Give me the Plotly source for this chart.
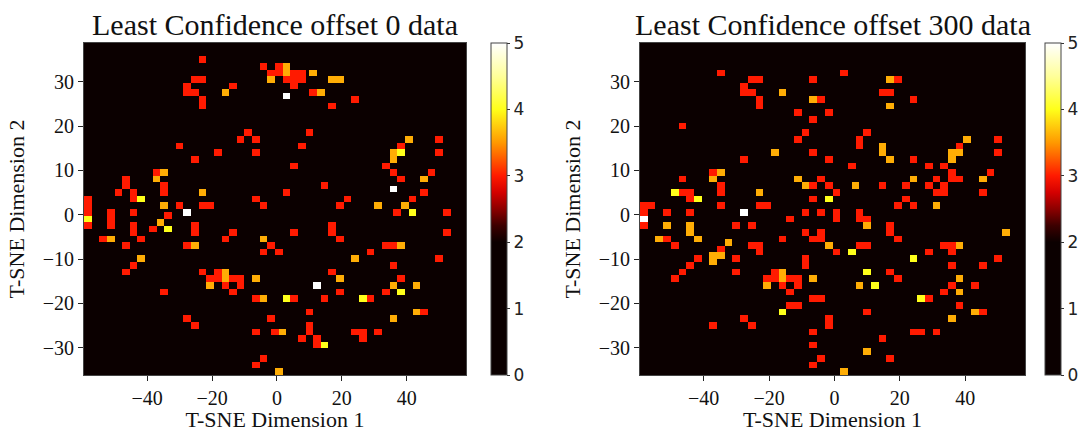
import numpy as np
import plotly.graph_objects as go

# ---- grid (t-SNE space binned as in the reference) ----
X_MIN, X_MAX = -59.5, 58.3
Y_MIN, Y_MAX = -36.2, 38.8
N_BINS = 50

# level values of the coloured bins
RED, ORANGE, YELLOW, WHITE = 3.0, 3.6, 4.0, 5.0

x_ticks = [-40, -20, 0, 20, 40]
y_ticks = [-30, -20, -10, 0, 10, 20, 30]
cb_ticks = [0, 1, 2, 3, 4, 5]

titles = ["Least Confidence offset 0 data", "Least Confidence offset 300 data"]

# ---- left panel bins: (column from left, row from top) ----
left_red = [(15,2),(14,5),(15,5),(13,6),(13,7),(14,7),(15,8),(15,9),(19,6),(23,3),(20,14),(21,13),(22,14),(22,16),
            (12,15),(17,16),(14,17),(9,19),(10,21),(10,22),(5,20),(5,21),(4,22),(6,22),(6,23),(0,23),(0,24),(0,25),
            (0,27),(22,23),(12,24),(15,24),(16,24),(24,4),(25,3),(25,4),(27,4),(28,4),(26,5),(27,5),(28,5),(27,6),
            (29.5,7),(35,8),(32,9),(29,13),(28,15),(27,18),(26,22),(31,21),(34,23),(33,24),(23,24),(41,15),(39,18),
            (40,19),(41,20),(42.5,23),(45,19),(44,22),(46,14),(46,16),(47,25),(3,25),(3,26),(3,27),(6,25),(6,27),
            (6,28),(7,29),(2,29),(5,30),(6,33),(5,34),(10,37),(13,41),(14,42),(10.5,25.5),(8.5,27.5),(14,27),(14,28),
            (13,30),(18,29),(19,28),(23,31),(15,34),(17,34),(16,35),(17,35),(19,35),(20,35),(18,36),(20,36),(19,37),
            (22,38),(22,43),(22,48),(40.5,25),(47,28),(32,27),(32,28),(33,29),(27,28),(24,30),(25,31),(39,30),(40,30),
            (37,31),(46,32),(40,33),(32,34),(41,35),(39,37),(33,37),(27,38),(31,38),(37,38),(29,40),(44,40),(24,41),
            (24.5,43),(29,42),(29,43),(28,44),(30,44),(30,45),(35,43),(36,43),(36,44),(38,43),(23,47)]
left_orange = [(18,7),(10,19),(9,20),(15,22),(10,24),(26,3),(26,4),(24,5),(29.5,4),(32,5),(33,5),(30.5,7),(38,24),
               (41.5,24),(42,14),(40,16),(40,17),(44,20),(3,29),(7,32),(9.5,26.5),(14,30),(18,34),(18,35),(16,36),
               (22,35),(23,29),(41,30),(35,32),(33,35),(40,36),(43,36),(23,38),(43,40),(40,41),(25.5,43),(25,49)]
left_yellow = [(7,23),(0,26),(41,16),(10.5,27.5),(42.5,25),(41,37),(26,38),(36,38),(31,45)]
left_white = [(26,7.5),(40,21.5),(13,25),(30,36)]

# ---- right panel bins ----
right_red = [(10,4),(14,5),(15,5),(13,6),(13,7),(14,7),(15,8),(15,9),(5,12),(20,10),(21,13),(20,14),(13,17),(9,19),
             (10,21),(10,22),(5,20),(5,22),(6,22),(6,23),(0,24),(1,24),(10,24),(15,24),(16,24),(26,4),(22,5),(33,5),
             (31,7),(32,7),(23,8),(35,8),(24,10),(22,11),(29,13),(28,14),(28,15),(22,16),(24,17),(27,18),(35,17),
             (41,15),(37,18),(39,18),(40,19),(40,20),(41,20),(38,20),(37,21),(39,21),(39,22),(38,22),(45,19),(46,14),
             (46,16),(44,22),(35,24),(33,24),(34,23),(34,21),(31,21),(23,20),(22,21),(24,21),(25,22),(22,23),(0,25),
             (0,27),(3,25),(6,25),(3,29),(4,30),(12,27),(14,27),(19,26),(21,25),(21,28),(18,29),(10,30.5),(14,30),
             (15,30),(15,31),(12,32),(12,34),(7,32),(6,33),(5,34),(4,35),(17,34),(16,35),(17,35),(19,35),(20,35),
             (20,36),(18,36),(19,37),(19,39),(20,39),(9,42),(13,41),(14,42),(21,32),(21,33),(23,25),(25,25),(25,26),
             (28,25),(28,26),(29,26),(32,27),(32,28),(33,29),(23,28),(22,29),(23,29),(25,31),(28,30),(29,30),(37,31),
             (39,30),(40,30),(40,31),(40,33),(44,33),(46,32),(32,34),(33,35),(40,36),(43,36),(39,37),(22,38),(23,38),
             (37,38),(41,39),(29,40),(44,40),(24,41),(24,42),(22,43),(35,43),(36,43),(38,43),(31,44),(22,45),(23,47),
             (32,47),(22,48)]
right_orange = [(18,7),(17,16),(10,19),(9,20),(15,22),(20,20),(21,21),(32,5),(22,8),(32,9),(31,15),(31,16),(32,17),
                (42,14),(40,16),(40,17),(41,16),(44,20),(35,20),(38,24),(27.5,21),(3,27),(6,27),(6,28),(7,29),(2,29),
                (11,29.5),(9,31.5),(10,31.5),(9,32.5),(18,34),(18,35),(16,36),(29,27),(47,28),(24,30),(41,30),(22,35),
                (28,36),(41,35),(41,37),(43,40),(40,41),(29,46),(26,49)]
right_yellow = [(4,22),(7,23),(24,23),(27,31),(35,32),(29,34),(30,36),(36,38),(18,40)]
right_white = [(0,26),(13,25)]

# ---- build half-bin grids ----
NS = 2 * N_BINS
dx = (X_MAX - X_MIN) / NS
dy = (Y_MAX - Y_MIN) / NS
x_centers = X_MIN + (np.arange(NS) + 0.5) * dx
y_centers = Y_MAX - (np.arange(NS) + 0.5) * dy


def build(groups):
    z = np.zeros((NS, NS))
    for cells, val in groups:
        for c, r in cells:
            i0 = int(round(2 * c))
            j0 = int(round(2 * r))
            z[j0:j0 + 2, i0:i0 + 2] = val
    return z


z_left = build([(left_red, RED), (left_orange, ORANGE), (left_yellow, YELLOW), (left_white, WHITE)])
z_right = build([(right_red, RED), (right_orange, ORANGE), (right_yellow, YELLOW), (right_white, WHITE)])

hot = [[0.0, '#0b0000'], [0.40, '#0b0000'], [0.45, '#3c0000'], [0.50, '#8c0000'], [0.55, '#d40000'],
       [0.60, '#ff1a00'], [0.70, '#ff9900'], [0.80, '#ffff1a'], [0.90, '#ffff9a'], [1.0, '#ffffff']]

W, H = 1086, 432
SERIF = "Liberation Serif, Times New Roman, serif"
SANS = "DejaVu Sans, sans-serif"


def fx(px):
    return px / W


def fy(py):
    return 1 - py / H


panels = [
    dict(z=z_left, x0=84, x1=466, cbx=491),
    dict(z=z_right, x0=640, x1=1025, cbx=1045),
]
plot_top, plot_bot = 43, 375

fig = go.Figure()
for k, p in enumerate(panels):
    sfx = "" if k == 0 else str(k + 1)
    fig.add_trace(go.Heatmap(
        z=p["z"], x=x_centers, y=y_centers, zmin=0, zmax=5, colorscale=hot,
        xaxis="x" + sfx, yaxis="y" + sfx, hoverinfo="skip",
        colorbar=dict(
            x=fx(p["cbx"]), xanchor="left", xpad=0, ypad=0,
            y=fy(plot_bot), yanchor="bottom", len=(plot_bot - plot_top) / H, lenmode="fraction",
            thickness=16, thicknessmode="pixels", outlinewidth=1, outlinecolor="#444",
            tickvals=cb_ticks, ticks="outside", ticklen=3, tickcolor="#333",
            tickfont=dict(family=SANS, size=17, color="#222"),
        ),
    ))
    xa = dict(
        domain=[fx(p["x0"]), fx(p["x1"])], range=[X_MIN, X_MAX], anchor="y" + sfx,
        tickvals=x_ticks, ticktext=[str(v).replace("-", "\u2212") for v in x_ticks],
        ticks="outside", ticklen=5, tickcolor="#222", showgrid=False, zeroline=False,
        showline=True, linecolor="#444", linewidth=1, mirror=True,
        tickfont=dict(family=SERIF, size=20, color="#111"),
        title=dict(text="T-SNE Dimension 1", font=dict(family=SERIF, size=22, color="#111"), standoff=8),
    )
    ya = dict(
        domain=[fy(plot_bot), fy(plot_top)], range=[Y_MIN, Y_MAX], anchor="x" + sfx,
        tickvals=y_ticks, ticktext=[str(v).replace("-", "\u2212") for v in y_ticks],
        ticks="outside", ticklen=5, tickcolor="#222", showgrid=False, zeroline=False,
        showline=True, linecolor="#444", linewidth=1, mirror=True,
        tickfont=dict(family=SERIF, size=20, color="#111"),
        title=dict(text="T-SNE Dimension 2", font=dict(family=SERIF, size=22, color="#111"), standoff=12),
    )
    fig.layout["xaxis" + sfx] = xa
    fig.layout["yaxis" + sfx] = ya
    fig.add_annotation(
        text=titles[k], xref="paper", yref="paper", x=fx((p["x0"] + p["x1"]) / 2), y=fy(24),
        xanchor="center", yanchor="middle", showarrow=False,
        font=dict(family=SERIF, size=30, color="#111"),
    )

fig.update_layout(
    width=W, height=H, autosize=False, margin=dict(l=0, r=0, t=0, b=0),
    paper_bgcolor="white", plot_bgcolor="#0b0000", showlegend=False,
)
# remove the browser's default 8px body margin so the figure sits at the page origin
fig.write_html(
    "out.html",
    config={"displayModeBar": False, "staticPlot": True},
    post_script="document.body.style.margin='0';document.body.style.overflow='hidden';",
)
